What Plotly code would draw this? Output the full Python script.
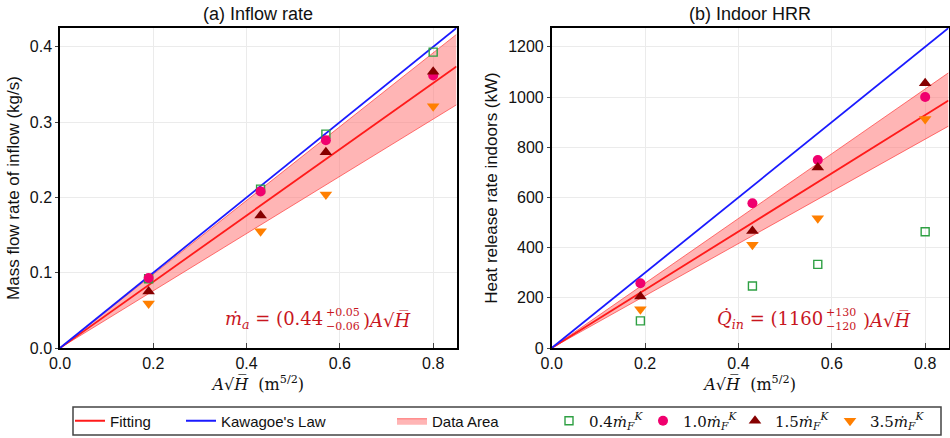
import plotly.graph_objects as go

# ---------------- data ----------------
x_pts = [0.19, 0.43, 0.57, 0.80]
# (a) inflow rate, kg/s
inflow_04 = [0.092, 0.211, 0.284, 0.393]
inflow_10 = [0.093, 0.208, 0.276, 0.362]
inflow_15 = [0.075, 0.176, 0.260, 0.367]
inflow_35 = [0.059, 0.155, 0.204, 0.321]
# (b) indoor HRR, kW
hrr_04 = [108, 247, 333, 463]
hrr_10 = [258, 577, 749, 1000]
hrr_15 = [205, 466, 719, 1055]
hrr_35 = [154, 411, 517, 912]

x_line = [0.0, 0.85]
fit_a, fit_a_up, fit_a_lo, kawagoe_a = 0.44, 0.05, -0.06, 0.5
fit_b, fit_b_up, fit_b_lo, kawagoe_b = 1160, 130, -120, 1500

series_names = ["0.4", "1.0", "1.5", "3.5"]

# ---------------- styles ----------------
W, H = 950, 438
RED = "#ff1a1a"
BLUE = "#1a1aff"
BAND = "rgba(255,120,120,0.55)"
BAND_EDGE = "rgba(255,60,60,0.7)"
FORM_RED = "#c8161e"
SANS = "Liberation Sans, Arial, sans-serif"
SERIF = "DejaVu Serif, serif"

marker_styles = [
    dict(symbol="square-open", size=8, color="#2ea043", line=dict(width=1.4, color="#2ea043")),
    dict(symbol="circle", size=10, color="#f0006e"),
    dict(symbol="triangle-up", size=11, color="#860000"),
    dict(symbol="triangle-down", size=11, color="#ff7f00"),
]


def px2x(px):
    return px / W


def py2y(py):
    return 1 - py / H


fig = go.Figure()

panels = [
    ("x", "y", fit_a, fit_a_up, fit_a_lo, kawagoe_a, [inflow_04, inflow_10, inflow_15, inflow_35]),
    ("x2", "y2", fit_b, fit_b_up, fit_b_lo, kawagoe_b, [hrr_04, hrr_10, hrr_15, hrr_35]),
]

for pi, (xa, ya, k, kup, klo, kk, ser) in enumerate(panels):
    first = pi == 0
    lo = [(k + klo) * v for v in x_line]
    up = [(k + kup) * v for v in x_line]
    fig.add_trace(go.Scatter(x=x_line, y=lo, mode="lines", line=dict(color=BAND_EDGE, width=1),
                             xaxis=xa, yaxis=ya, showlegend=False, hoverinfo="skip"))
    fig.add_trace(go.Scatter(x=x_line, y=up, mode="lines", line=dict(color=BAND_EDGE, width=1),
                             fill="tonexty", fillcolor=BAND, xaxis=xa, yaxis=ya,
                             name="Data Area", legend="legend3", showlegend=first))
    fig.add_trace(go.Scatter(x=x_line, y=[k * v for v in x_line], mode="lines",
                             line=dict(color=RED, width=1.8), xaxis=xa, yaxis=ya,
                             name="Fitting", legend="legend", showlegend=first))
    fig.add_trace(go.Scatter(x=x_line, y=[kk * v for v in x_line], mode="lines",
                             line=dict(color=BLUE, width=1.8), xaxis=xa, yaxis=ya,
                             name="Kawagoe's Law", legend="legend2", showlegend=first))
    for si, (nm, ys, ms) in enumerate(zip(series_names, ser, marker_styles)):
        label = (f"<span style='font-family:{SERIF}'>{nm}<i>ṁ</i>"
                 f"<sub><i>F</i></sub><sup><i>K</i></sup></span>")
        fig.add_trace(go.Scatter(x=x_pts, y=ys, mode="markers", marker=ms, xaxis=xa, yaxis=ya,
                                 name=label, legend=f"legend{4 + si}", showlegend=first))

axis_common = dict(showline=True, linecolor="black", linewidth=1.5, mirror=True,
                   showgrid=True, gridcolor="#ebebeb", gridwidth=1, zeroline=False,
                   tickfont=dict(family=SANS, size=16, color="#111"), automargin=False)

xtitle = dict(text="<i>A</i>√<i>H̅</i>  (m<sup>5/2</sup>)",
              font=dict(family=SERIF, size=16, color="#111"), standoff=8)

fig.update_layout(
    width=W, height=H, autosize=False,
    margin=dict(l=0, r=0, t=0, b=0),
    paper_bgcolor="white", plot_bgcolor="white",
    xaxis=dict(domain=[px2x(60), px2x(456.5)], range=[0, 0.85], tickvals=[0, 0.2, 0.4, 0.6, 0.8],
               tickformat=".1f", ticks="inside", ticklen=5, anchor="y", title=xtitle, **axis_common),
    yaxis=dict(domain=[py2y(348), py2y(28)], range=[0, 0.425], tickvals=[0, 0.1, 0.2, 0.3, 0.4],
               tickformat=".1f", ticks="outside", ticklen=3, anchor="x",
               title=dict(text="Mass flow rate of inflow (kg/s)", font=dict(family=SANS, size=17, color="#111"),
                          standoff=6), **axis_common),
    xaxis2=dict(domain=[px2x(551.7), px2x(948.5)], range=[0, 0.85], tickvals=[0, 0.2, 0.4, 0.6, 0.8],
                tickformat=".1f", ticks="inside", ticklen=5, anchor="y2", title=xtitle, **axis_common),
    yaxis2=dict(domain=[py2y(348), py2y(28)], range=[0, 1275], tickvals=[0, 200, 400, 600, 800, 1000, 1200],
                ticks="outside", ticklen=3, anchor="x2",
                title=dict(text="Heat release rate indoors (kW)", font=dict(family=SANS, size=17, color="#111"),
                           standoff=6), **axis_common),
)

# legends: one per entry so each can sit where the reference puts it
leg_starts = [70, 181, 392, 549, 643, 735, 830]
leg_keys = ["legend"] + [f"legend{i}" for i in range(2, 8)]
for key, sx in zip(leg_keys, leg_starts):
    fig.update_layout({key: dict(x=px2x(sx), y=py2y(421), xanchor="left", yanchor="middle",
                                 orientation="h", bgcolor="rgba(0,0,0,0)", borderwidth=0,
                                 font=dict(family=SANS, size=15, color="#111"))})

# legend frame
fig.add_shape(type="rect", xref="paper", yref="paper", x0=px2x(73), x1=px2x(941),
              y0=py2y(435), y1=py2y(407), line=dict(color="#444", width=1.5), fillcolor="rgba(0,0,0,0)")

# panel titles
for txt, cx in [("(a) Inflow rate", 258), ("(b) Indoor HRR", 750)]:
    fig.add_annotation(text=txt, x=px2x(cx), y=py2y(14), xref="paper", yref="paper",
                       xanchor="center", yanchor="middle", showarrow=False,
                       font=dict(family=SANS, size=18, color="#111"))

# formula annotations (stacked +/- bounds as separate small text)
forms = [
    ("<i>ṁ</i><sub><i>a</i></sub> = (0.44", f"+{fit_a_up:.2f}<br>−{abs(fit_a_lo):.2f}", 324, 362),
    ("<i>Q̇</i><sub><i>in</i></sub> = (1160", f"+{fit_b_up}<br>−{abs(fit_b_lo)}", 824, 862),
]
for main, stack, xs, xe in forms:
    fig.add_annotation(text=main, x=px2x(xs), y=py2y(320), xref="paper", yref="paper",
                       xanchor="right", yanchor="middle", showarrow=False, borderpad=0,
                       font=dict(family=SERIF, size=18, color=FORM_RED))
    fig.add_annotation(text=stack, x=px2x(xs + 1), y=py2y(319), xref="paper", yref="paper",
                       xanchor="left", yanchor="middle", showarrow=False, align="left", borderpad=0,
                       font=dict(family=SERIF, size=11, color=FORM_RED))
    fig.add_annotation(text=")<i>A</i>√<i>H̅</i>", x=px2x(xe), y=py2y(320), xref="paper", yref="paper",
                       xanchor="left", yanchor="middle", showarrow=False, borderpad=0,
                       font=dict(family=SERIF, size=18, color=FORM_RED))

fig.write_html("out.html")
